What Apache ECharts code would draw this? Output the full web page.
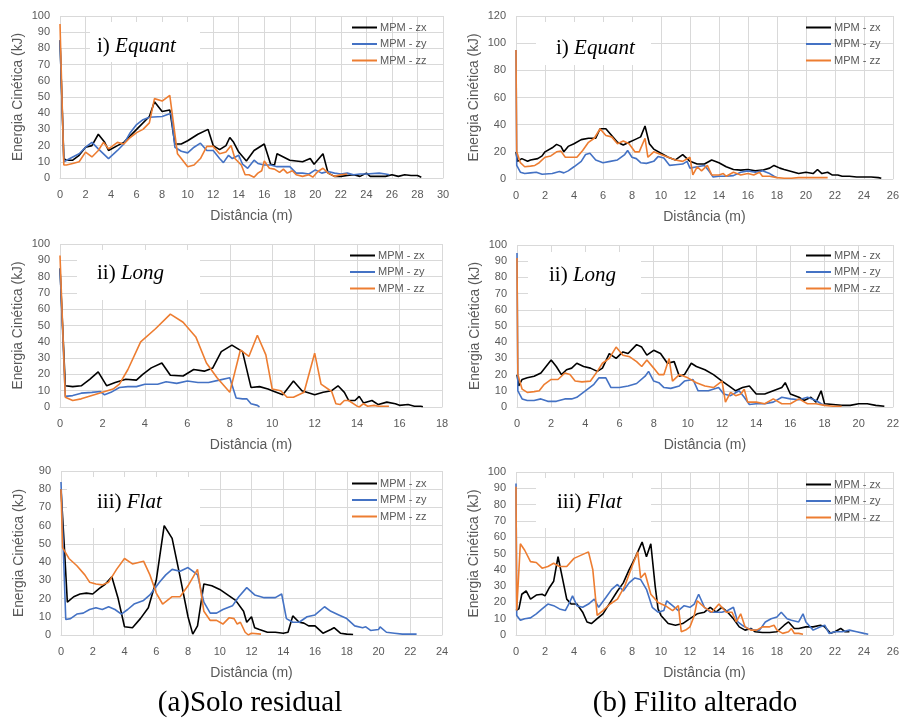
<!DOCTYPE html>
<html><head><meta charset="utf-8">
<script src="https://cdn.jsdelivr.net/npm/echarts@6/dist/echarts.min.js"></script>
<style>html,body{margin:0;padding:0;background:#fff}#c{width:902px;height:719px}</style>
</head><body><div id="c"></div>
<script>
// ---------- DATA ----------
const seriesNames = ['MPM - zx', 'MPM - zy', 'MPM - zz'];
const panelLabels = [['i) ', 'Equant'], ['i) ', 'Equant'], ['ii) ', 'Long'], ['ii) ', 'Long'], ['iii) ', 'Flat'], ['iii) ', 'Flat']];
const captions = ['(a)Solo residual', '(b) Filito alterado'];
const xAxisName = 'Distância (m)';
const yAxisName = 'Energia Cinética (kJ)';
const xMax = [30, 26, 18, 22, 24, 26];
const yMax = [100, 120, 100, 100, 90, 100];
const yStep = [10, 20, 10, 10, 10, 10];

// (a) Solo residual - Equant
const sr_equant_zx = [[0,85],[0.3,12],[0.5,11],[1,11],[1.5,14],[2,19],[2.5,20],[3,27],[3.5,22],[3.8,17],[4.5,20],[5,22],[6,30],[7,38],[7.4,47],[8,41],[8.6,42],[9,21],[9.5,21],[10,23],[10.8,27],[11.6,30],[12,20],[12.5,17.5],[13,20],[13.3,25],[13.6,22],[14,16],[14.6,10.5],[15.2,17],[16,21],[16.5,8.5],[16.8,8],[17,15],[17.5,13],[18,11],[18.5,10.5],[19,10],[19.6,12],[19.9,8.5],[20.6,15],[21,3],[21.5,1],[22,1],[22.5,1.5],[23,2],[23.5,1],[24,3],[24.3,1],[25,1],[25.5,1],[26,2],[26.5,1],[27,2],[27.5,1.5],[28,1.5],[28.3,0.5]];
const sr_equant_zy = [[0,85],[0.3,10],[1,13],[1.5,15],[2,19],[2.5,22],[3,18],[3.8,12],[4.5,17],[5,21],[5.5,28],[6,33],[6.5,36],[7,37.5],[8,38],[8.7,40],[9,19],[9.5,16.5],[10,15.5],[10.5,19],[11,21.5],[11.5,17],[12,17],[12.5,12],[12.8,9.5],[13.2,14],[13.5,12],[14,14],[14.3,8.5],[14.7,6],[15.2,11],[15.5,9],[16,8],[16.5,8],[17,7],[18,7],[18.5,3],[19,3],[19.5,2.5],[20,5],[20.5,3],[21,4],[21.5,3],[22,2.5],[22.5,3],[23,2],[23.5,2.5],[24,2.5],[25,3],[25.5,2.5],[25.8,2]];
const sr_equant_zz = [[0,95],[0.3,8],[0.5,8],[1,9],[1.5,10],[2,16],[2.5,13],[3,17],[3.4,22],[3.8,18],[4.5,22],[5,21],[5.5,25],[6,28],[6.5,30],[7,34],[7.4,49],[8,47.5],[8.6,51],[9.2,15],[9.5,12],[10,7],[10.5,8],[11,12],[11.5,19.5],[12,19.5],[12.5,15],[13,16],[13.4,20],[13.7,12],[14.2,8],[14.5,2],[14.8,2],[15.2,0.5],[15.5,3],[15.8,4.5],[16,10.5],[16.4,6],[16.8,5.5],[17.2,3.5],[17.5,5.5],[17.8,3],[18.2,4.5],[18.5,2],[19,1],[19.5,2],[19.8,0.5],[20.2,4],[20.6,6],[21,3],[21.5,1],[22,2],[22.5,2.5]];

// (b) Filito alterado - Equant
const fa_equant_zx = [[0,20],[0.1,13],[0.4,15],[0.8,13],[1,14],[1.5,15],[1.8,17],[2,20],[2.5,23],[2.8,25.5],[3.1,24],[3.3,20],[3.6,24],[4,26],[4.5,29],[5,30],[5.5,30],[5.8,37],[6.2,37],[6.6,32],[7,27],[7.4,25],[7.8,27],[8.2,29],[8.6,31],[8.9,39],[9.2,26],[9.5,22],[10,19],[10.5,16],[11,14],[11.5,18],[12,13],[12.5,11],[13,11],[13.5,14],[14,12],[14.5,9],[15,7],[15.5,6.5],[16,7],[16.5,6],[17,6.5],[17.5,8],[17.8,10],[18.2,8],[18.5,7],[19,5.5],[19.5,4],[20,5],[20.5,4],[20.8,7],[21.1,4],[21.5,5],[21.8,3],[22.2,3],[22.5,2],[23,2],[23.5,1.5],[24,1.5],[24.5,1.5],[25,1],[25.2,0.5]];
const fa_equant_zy = [[0,95],[0.05,10],[0.3,5],[0.6,4],[1,4.5],[1.4,5],[1.8,3.5],[2.5,4],[3,5.5],[3.3,4.5],[3.6,6],[4,9],[4.5,13],[4.8,18],[5.1,19],[5.5,14],[6,12],[6.5,13],[7,14],[7.5,18],[7.7,21],[8,16],[8.3,15],[8.6,12],[9,11.5],[9.5,13],[9.8,16.5],[10.2,15.5],[10.6,10],[11,10.5],[11.5,11],[11.8,13],[12,8],[12.5,9],[13,10],[13.3,6],[13.6,1.5],[14,2],[14.5,2],[15,2.5],[15.5,5],[16,6],[16.5,5],[17,6],[17.5,4],[17.8,2],[18,1]];
const fa_equant_zz = [[0,95],[0.05,20],[0.3,12],[0.6,9],[1,9.5],[1.3,10],[1.6,12],[2,16],[2.4,17],[2.8,20],[3.1,20.5],[3.4,16],[3.8,16],[4.2,16],[4.6,21],[5,27],[5.4,30],[5.8,37],[6.2,32],[6.6,31],[7,26],[7.4,28],[7.8,26],[8.2,20],[8.5,20],[8.9,30],[9.1,16],[9.5,20],[10,18],[10.5,16],[11,14],[11.5,13],[12,16],[12.2,3],[12.5,9],[12.8,6],[13.2,10],[13.5,3],[14,3],[14.3,4],[14.5,2],[15,5],[15.5,3],[16,4],[16.4,3],[16.8,5],[17,2],[17.5,2],[18,1],[18.5,0.5],[19,0.5],[19.5,1],[20,1],[20.5,1],[21,1],[21.5,1]];

// (a) Solo residual - Long
const sr_long_zx = [[0,85],[0.25,13],[0.6,12.5],[1,13],[1.4,17],[1.8,21.5],[2.2,13],[2.6,15],[3.1,17],[3.6,16.5],[3.9,20],[4.3,24],[4.8,27],[5.2,19.5],[5.8,19],[6.3,23],[6.8,22],[7.2,24],[7.6,34],[8.1,38],[8.6,34],[9,12],[9.4,12.5],[9.8,11],[10,10],[10.5,7.5],[11,16],[11.4,10],[12,7.5],[12.4,9],[12.8,10],[13.1,13],[13.4,9],[13.6,4],[13.9,4],[14.1,6.5],[14.3,2.5],[14.7,4],[15,1.5],[15.4,3],[15.8,2],[16,1],[16.4,1.5],[16.7,0.5],[17,0.5],[17.1,0.2]];
const sr_long_zy = [[0,85],[0.25,6.5],[0.6,7],[1,8.5],[1.5,9],[1.9,9.5],[2.1,7.5],[2.4,9],[2.8,12],[3.2,12.5],[3.6,12.5],[4,14],[4.6,14],[5,15.5],[5.5,14.5],[6,16],[6.5,15],[7,15],[7.5,16.5],[8,18],[8.3,5.5],[8.6,5],[8.8,5],[9,2],[9.3,1],[9.4,0]];
const sr_long_zz = [[0,93],[0.25,6],[0.6,4],[1,5],[1.5,7],[2,9],[2.5,11],[2.8,14],[3.2,23],[3.8,40],[4.5,48],[5.2,57],[5.8,52],[6.4,43],[6.9,27],[7.4,18],[8,9],[8.5,35],[8.9,31],[9.3,44],[9.7,32],[10,11],[10.4,10],[10.7,6],[11,6],[11.5,9],[12,33],[12.3,14],[12.8,9.5],[13,2],[13.2,1.5],[13.4,4],[13.6,4],[14,0.5],[14.1,0],[14.3,2],[14.5,0.5],[14.8,1],[15,0.5],[15.3,0.5],[15.5,0.5]];

// (b) Filito alterado - Long
const fa_long_zx = [[0,20],[0.1,13],[0.3,17],[0.6,18],[1,19],[1.4,21],[1.7,25],[2,29],[2.3,25],[2.6,20],[2.9,23],[3.2,24],[3.5,27],[3.9,25],[4.3,24],[4.7,22],[5,24],[5.4,33],[5.8,30],[6.2,34],[6.5,33],[7,38.5],[7.3,37],[7.6,32],[8,35],[8.4,33],[8.8,27],[9.2,28],[9.5,19],[9.8,20],[10.2,27],[10.5,25],[11,23],[11.5,20],[12,16],[12.4,13],[12.8,10],[13.2,12],[13.6,13],[14,8],[14.5,8],[15,10],[15.5,12],[15.7,15],[16,8],[16.5,6],[16.8,4],[17.2,6],[17.5,3],[17.8,10],[18,2],[18.5,1.5],[19,1],[19.5,1],[20,2],[20.5,2],[21,1],[21.5,0.5]];
const fa_long_zy = [[0,95],[0.05,10],[0.3,5],[0.6,4],[1,4],[1.4,5],[1.8,3.5],[2.3,3.5],[2.8,5],[3.2,5],[3.5,6],[4,10],[4.5,14],[4.8,18],[5.2,18],[5.5,12],[6,12],[6.5,13],[7,14.5],[7.5,19],[7.7,22],[8,16],[8.3,15],[8.6,12],[9,11.5],[9.5,13],[9.8,16],[10.3,17],[10.6,10],[11.2,10],[11.8,12],[12.1,8],[12.5,7],[13,10],[13.3,6],[13.6,1.5],[14,2],[14.5,2],[15,3],[15.5,6],[16,5],[16.5,4.5],[17,6],[17.5,4],[17.8,2],[18,1]];
const fa_long_zz = [[0,92],[0.05,20],[0.3,11],[0.6,9],[1,9.5],[1.3,10],[1.6,14],[2,17],[2.4,17],[2.8,21],[3.1,20],[3.4,16],[3.8,15.5],[4.3,16],[4.7,22],[5,27],[5.4,30],[5.8,37],[6.2,32],[6.6,31],[7,28],[7.3,25],[7.6,29],[8,24],[8.3,20],[8.6,20],[8.9,30],[9.1,16],[9.5,20],[10,18],[10.5,15],[11,13],[11.5,12],[12,16],[12.2,3],[12.5,9],[12.8,7],[13.1,8],[13.3,11],[13.5,3],[14,3],[14.5,2],[15,5],[15.5,2],[16,2],[16.5,5],[17,2],[17.5,2],[18,1],[18.5,0.5],[19,0.5]];

// (a) Solo residual - Flat
const sr_flat_zx = [[0,80],[0.2,50],[0.4,18],[0.8,21],[1.2,22.5],[1.6,23],[2,22.5],[2.4,25.5],[2.8,28],[3.2,32],[3.6,20],[4,4.5],[4.5,4],[5,9],[5.5,15],[6,30],[6.5,60],[7,53],[7.5,32],[8,10],[8.3,0.5],[8.6,5],[9,28],[9.5,27],[10,25],[10.5,22],[11,19],[11.5,13],[11.7,7],[12,10],[12.2,4],[12.5,3],[13,1.5],[13.5,1.5],[14,1],[14.3,1.5],[14.6,10.5],[15,7],[15.3,6.5],[15.6,5],[16,5],[16.5,1],[17,3],[17.2,4],[17.6,1],[18,0.5],[18.4,0.3]];
const sr_flat_zy = [[0,84],[0.3,8.5],[0.6,9],[1,11.5],[1.4,12],[1.8,14],[2.2,15],[2.6,14],[3,15.5],[3.4,14],[3.8,11.5],[4.2,14],[4.6,17],[5.2,19],[5.6,22],[6.2,29],[6.6,33],[7,36],[7.5,35],[8,37],[8.3,35],[8.6,33],[9,18],[9.4,12],[9.8,12],[10.2,14],[10.8,16],[11.2,21],[11.7,26],[12.2,22],[12.8,20.5],[13.5,20.5],[13.9,22.5],[14.2,9],[14.6,7],[15,7],[15.5,10],[16,11],[16.6,15.5],[17,13],[17.5,11],[18,9],[18.5,5],[19,4],[19.2,4.5],[19.5,2.5],[20,3],[20.1,4.5],[20.5,1.5],[21,1],[21.5,0.5],[22,0.5],[22.4,0.5]];
const sr_flat_zz = [[0,80],[0.1,48],[0.5,42],[1,38],[1.5,33],[1.8,29],[2.2,28],[2.6,27.5],[3,29],[3.5,36],[4,42],[4.5,39],[5.2,40.5],[5.6,33],[6,23],[6.4,17],[7,21],[7.5,21],[8,27],[8.6,36],[9,13],[9.4,8],[9.8,8],[10.2,6],[10.6,9.5],[10.9,9],[11.1,6],[11.3,7],[11.6,1.5],[11.8,0],[12,1],[12.6,0.5]];

// (b) Filito alterado - Flat
const fa_flat_zx = [[0,15],[0.2,16],[0.4,25],[0.7,27],[1,22],[1.4,24.5],[1.8,25],[2,24],[2.3,29],[2.6,33],[2.9,48],[3.2,35],[3.5,22],[3.8,19],[4.2,19],[4.6,14],[4.9,8],[5.2,7],[5.6,10],[6,13],[6.5,20],[7,27],[7.4,32],[7.8,40],[8.2,47],[8.5,53],[8.7,57],[9,48],[9.3,56],[9.6,30],[9.8,16],[10,12],[10.5,7],[11,6],[11.5,7],[12,10],[12.5,13],[13,14],[13.4,17],[13.8,14],[14.2,17],[14.6,14],[15,10],[15.4,5],[15.8,3],[16.2,4],[16.5,2],[17,1.5],[17.5,1.5],[18,2],[18.5,6],[18.8,8],[19.2,4],[19.5,4],[20,5],[20.5,5],[21,6],[21.3,5],[21.7,1],[22,2],[22.4,4],[22.7,2],[23,2]];
const fa_flat_zy = [[0,93],[0.05,12],[0.3,9],[0.6,10],[1,10.5],[1.4,13],[1.8,16],[2.2,19],[2.6,18],[3,16],[3.4,15],[3.7,20],[3.9,24],[4.2,18],[4.6,17],[5,19],[5.4,22],[5.7,17],[6.2,23],[6.6,28],[7,31],[7.4,27],[7.8,32],[8.2,35],[8.6,34],[9,28],[9.4,17],[9.8,14],[10.2,15],[10.4,21],[10.8,18],[11.2,15],[11.6,18],[12,17],[12.3,19],[12.6,25],[13,17],[13.4,14],[13.8,14],[14.2,14],[14.6,15],[15,17],[15.3,8],[15.6,6],[16,4],[16.4,3],[16.8,3],[17.2,8],[17.6,10],[18,11],[18.3,14],[18.7,10],[19,9],[19.5,8],[19.8,13],[20,8],[20.5,3],[21,5],[21.3,6],[21.6,1],[22,2],[22.5,2],[23,3],[23.5,2],[24,1],[24.3,0.5]];
const fa_flat_zz = [[0,91],[0.05,15],[0.3,56],[0.6,52],[1,45],[1.4,44.5],[1.8,41],[2.2,42],[2.6,44],[3,42],[3.5,42],[4,47],[4.5,49],[5,51],[5.3,40],[5.6,12],[6,15],[6.5,19],[7,22],[7.5,30],[8,42],[8.4,51],[8.6,35],[8.9,38],[9.3,25],[9.8,20],[10.3,18],[10.8,15],[11.2,18],[11.4,2],[11.7,3],[12,5],[12.3,12],[12.5,21],[13,17],[13.5,14],[14,19],[14.5,14],[14.9,14],[15.2,8],[15.5,13],[15.8,5],[16.2,3],[16.6,3],[17,5],[17.5,5],[17.8,6],[18,3],[18.4,1],[18.8,2],[19,4],[19.2,1],[19.5,1],[19.8,0.5]];

const panelData = [
  [sr_equant_zx, sr_equant_zy, sr_equant_zz],
  [fa_equant_zx, fa_equant_zy, fa_equant_zz],
  [sr_long_zx, sr_long_zy, sr_long_zz],
  [fa_long_zx, fa_long_zy, fa_long_zz],
  [sr_flat_zx, sr_flat_zy, sr_flat_zz],
  [fa_flat_zx, fa_flat_zy, fa_flat_zz]
];

// ---------- LAYOUT / STYLE ----------
const colors = ['#000000', '#4472C4', '#ED7D31'];
const grids = [
  {left: 60, top: 16, width: 383, height: 162},
  {left: 516, top: 16, width: 382, height: 163},
  {left: 60, top: 244, width: 382, height: 163},
  {left: 517, top: 245, width: 381, height: 162},
  {left: 61, top: 471, width: 381, height: 164},
  {left: 516, top: 472, width: 382, height: 163}
];
const labelBoxes = [
  {x: 90, y: 22, w: 110, h: 40, tx: 97, ty: 46},
  {x: 536, y: 22, w: 115, h: 43, tx: 556, ty: 48},
  {x: 77, y: 250, w: 123, h: 50, tx: 97, ty: 273},
  {x: 528, y: 252, w: 113, h: 56, tx: 549, ty: 275},
  {x: 67, y: 477, w: 133, h: 51, tx: 97, ty: 502},
  {x: 536, y: 478, w: 115, h: 50, tx: 557, ty: 502}
];
const legendPos = [
  {left: 352, top: 21}, {left: 806, top: 21},
  {left: 350, top: 249}, {left: 806, top: 249},
  {left: 352, top: 477}, {left: 806, top: 478}
];
const gray = '#595959';
const sans = 'Liberation Sans';

const option = {
  animation: false,
  backgroundColor: '#fff',
  grid: grids.map(g => Object.assign({containLabel: false}, g)),
  xAxis: grids.map((g, i) => ({
    type: 'value', gridIndex: i, min: 0, max: xMax[i], interval: 2,
    name: xAxisName, nameLocation: 'middle', nameGap: 31,
    nameTextStyle: {color: gray, fontSize: 14, fontFamily: sans},
    axisLine: {show: true, lineStyle: {color: '#d9d9d9'}},
    axisTick: {show: false},
    axisLabel: {color: gray, fontSize: 11, fontFamily: sans, margin: 11, showMaxLabel: true},
    splitLine: {show: true, lineStyle: {color: '#d9d9d9', width: 1}}
  })),
  yAxis: grids.map((g, i) => ({
    type: 'value', gridIndex: i, min: 0, max: yMax[i], interval: yStep[i],
    name: yAxisName, nameLocation: 'middle', nameGap: 35,
    nameTextStyle: {color: gray, fontSize: 13.8, fontFamily: sans},
    axisLine: {show: false}, axisTick: {show: false},
    axisLabel: {color: gray, fontSize: 11, fontFamily: sans, margin: 10},
    splitLine: {show: true, lineStyle: {color: '#d9d9d9', width: 1}}
  })),
  legend: legendPos.map(p => ({
    data: seriesNames, orient: 'vertical', left: p.left, top: p.top + 1,
    padding: 0,
    icon: 'rect', itemWidth: 25, itemHeight: 2, itemGap: 5.5,
    selectedMode: false,
    textStyle: {color: gray, fontSize: 11, fontFamily: sans, padding: [0, 0, 0, -2]}
  })),
  series: [],
  graphic: []
};

panelData.forEach((ser, i) => {
  ser.forEach((d, k) => {
    option.series.push({
      type: 'line', name: seriesNames[k], xAxisIndex: i, yAxisIndex: i,
      data: d, showSymbol: false, symbol: 'none',
      lineStyle: {color: colors[k], width: 1.6}, itemStyle: {color: colors[k]},
      z: 3
    });
  });
  const b = labelBoxes[i];
  option.graphic.push({
    type: 'rect', z: 1, silent: true,
    shape: {x: b.x, y: b.y, width: b.w, height: b.h},
    style: {fill: '#ffffff'}
  });
  option.graphic.push({
    type: 'text', z: 5, silent: true, x: b.tx, y: b.ty,
    style: {
      text: '{r|' + panelLabels[i][0] + '}{it|' + panelLabels[i][1] + '}',
      verticalAlign: 'middle',
      rich: {
        r: {fontFamily: 'Liberation Serif', fontSize: 21, fill: '#000', color: '#000'},
        it: {fontFamily: 'Liberation Serif', fontSize: 21, fontStyle: 'italic', fill: '#000', color: '#000'}
      }
    }
  });
});

option.graphic.push({
  type: 'text', z: 5, x: 250, y: 703, silent: true,
  style: {text: captions[0], fontFamily: 'Liberation Serif', fontSize: 29, fill: '#000', align: 'center', verticalAlign: 'middle'}
});
option.graphic.push({
  type: 'text', z: 5, x: 695, y: 703, silent: true,
  style: {text: captions[1], fontFamily: 'Liberation Serif', fontSize: 29, fill: '#000', align: 'center', verticalAlign: 'middle'}
});

const chart = echarts.init(document.getElementById('c'), null, {renderer: 'canvas'});
chart.setOption(option);
</script>
</body></html>
